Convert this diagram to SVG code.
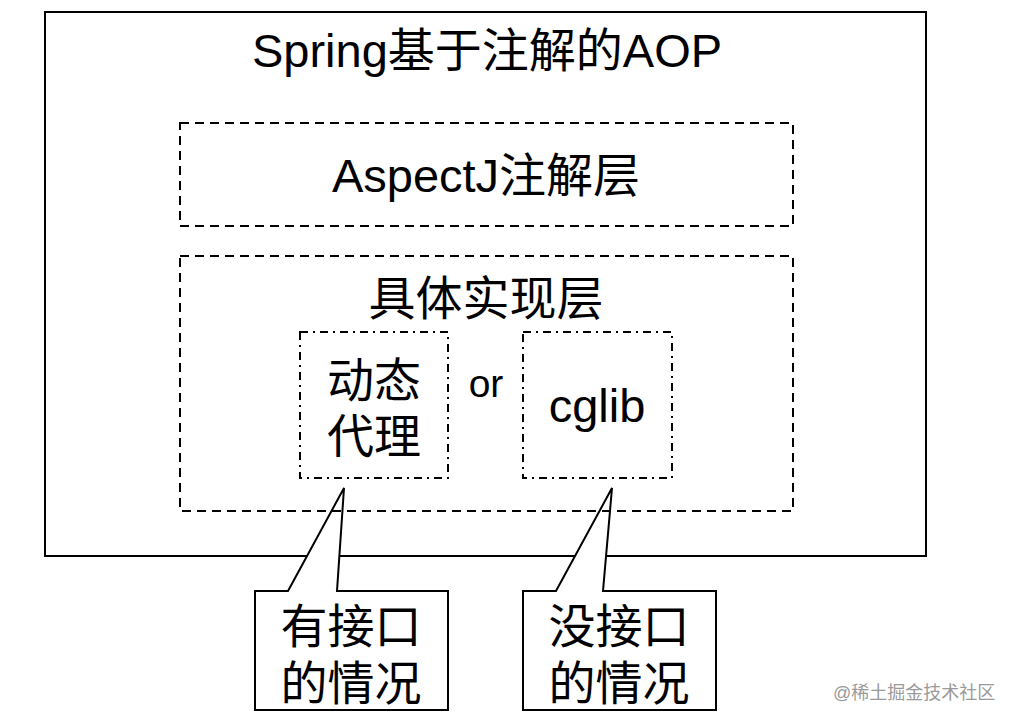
<svg xmlns="http://www.w3.org/2000/svg" width="1014" height="725" viewBox="0 0 1014 725">
<style>
text{font-family:"Liberation Sans","Noto Sans CJK SC",sans-serif;fill:#000;text-anchor:middle}
.t{font-size:47px}
.or{font-size:39px}
.solid{fill:none;stroke:#000;stroke-width:2}
.dash{fill:none;stroke:#000;stroke-width:2;stroke-dasharray:9 6}
.dd{fill:none;stroke:#000;stroke-width:2;stroke-dasharray:8 5 2 5}
.call{fill:#fff;stroke:#000;stroke-width:2;stroke-linejoin:miter}
.wm{font-size:18px;fill:#9a9a9a;text-anchor:start}
</style>
<rect width="1014" height="725" fill="#fff"/>
<g id="outer">
<rect class="solid" x="45" y="12" width="881" height="544"/>
<text class="t" x="487" y="67">Spring基于注解的AOP</text>
</g>
<g id="connectors">
<path id="callout1" class="call" d="M255,591 H288 L344,488 L337,591 H448 V710 H255 Z"/>
<path id="callout2" class="call" d="M523,591 H556 L612,488 L603,591 H716 V710 H523 Z"/>
</g>
<g id="aspectj">
<rect class="dash" x="180" y="123" width="613" height="103"/>
<text class="t" x="486" y="192">AspectJ注解层</text>
</g>
<g id="impl">
<rect class="dash" x="180" y="256" width="613" height="255"/>
<text class="t" x="486" y="315">具体实现层</text>
</g>
<g id="dynproxy">
<rect class="dd" x="300" y="332" width="148" height="146"/>
<text class="t" x="374" y="397">动态</text>
<text class="t" x="374" y="453">代理</text>
</g>
<g id="or">
<text class="or" x="486" y="397">or</text>
</g>
<g id="cglib">
<rect class="dd" x="523" y="332" width="149" height="146"/>
<text class="t" x="597" y="422">cglib</text>
</g>
<g id="note1">
<text class="t" x="351" y="643">有接口</text>
<text class="t" x="351" y="700">的情况</text>
</g>
<g id="note2">
<text class="t" x="619" y="643">没接口</text>
<text class="t" x="619" y="700">的情况</text>
</g>
<text class="wm" x="833" y="699">@稀土掘金技术社区</text>
</svg>
